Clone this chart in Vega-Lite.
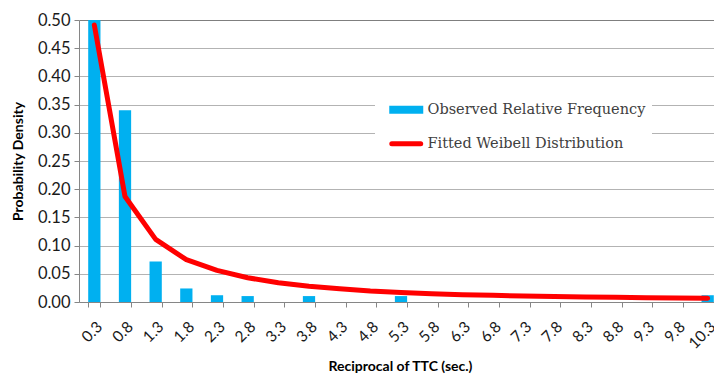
{
  "$schema": "https://vega.github.io/schema/vega-lite/v6.json",
  "width": 635,
  "height": 282,
  "autosize": {"type": "none"},
  "padding": {"left": 79, "top": 20, "right": 0, "bottom": 76},
  "background": "white",
  "config": {
    "view": {"stroke": null},
    "font": "Lato",
    "axis": {
      "domainColor": "#868686",
      "tickColor": "#868686",
      "tickSize": 5,
      "labelColor": "#1a1a1a",
      "titleColor": "#000000",
      "titleFont": "Lato",
      "titleFontWeight": "bold",
      "titleFontSize": 14,
      "labelFont": "Lato",
      "labelFontSize": 16.5,
      "labelOverlap": false
    },
    "axisY": {
      "tickCount": 10,
      "gridColor": {"condition": {"test": "datum.value > 0.49", "value": "#7f7f7f"}, "value": "#b3b3b3"}
    },
    "legend": {
      "orient": "none",
      "fillColor": "white",
      "padding": 6,
      "symbolSize": 289,
      "symbolOffset": 18,
      "labelOffset": 14,
      "rowPadding": 17,
      "labelFont": "DejaVu Serif",
      "labelFontSize": 14.5,
      "labelColor": "#404040",
      "labelLimit": 400
    }
  },
  "data": {
    "values": [
      {"ttc": "0.3", "observed": 0.5, "fitted": 0.491},
      {"ttc": "0.8", "observed": 0.34, "fitted": 0.187},
      {"ttc": "1.3", "observed": 0.072, "fitted": 0.111},
      {"ttc": "1.8", "observed": 0.024, "fitted": 0.075},
      {"ttc": "2.3", "observed": 0.012, "fitted": 0.056},
      {"ttc": "2.8", "observed": 0.0105, "fitted": 0.043},
      {"ttc": "3.3", "observed": 0, "fitted": 0.034},
      {"ttc": "3.8", "observed": 0.0105, "fitted": 0.028},
      {"ttc": "4.3", "observed": 0, "fitted": 0.0237},
      {"ttc": "4.8", "observed": 0, "fitted": 0.0195},
      {"ttc": "5.3", "observed": 0.0105, "fitted": 0.0167},
      {"ttc": "5.8", "observed": 0, "fitted": 0.0148},
      {"ttc": "6.3", "observed": 0, "fitted": 0.013},
      {"ttc": "6.8", "observed": 0, "fitted": 0.0118},
      {"ttc": "7.3", "observed": 0, "fitted": 0.0107},
      {"ttc": "7.8", "observed": 0, "fitted": 0.0098},
      {"ttc": "8.3", "observed": 0, "fitted": 0.009},
      {"ttc": "8.8", "observed": 0, "fitted": 0.0083},
      {"ttc": "9.3", "observed": 0, "fitted": 0.0076},
      {"ttc": "9.8", "observed": 0, "fitted": 0.007},
      {"ttc": "10.3", "observed": 0.012, "fitted": 0.0065}
    ]
  },
  "encoding": {
    "x": {
      "field": "ttc",
      "type": "ordinal",
      "sort": null,
      "scale": {"range": [0, 644], "paddingInner": 0.6, "paddingOuter": 0.3},
      "axis": {
        "title": "Reciprocal of TTC (sec.)",
        "labelAngle": -45,
        "labelPadding": 12,
        "labelDx": 3,
        "labelFontSize": 15.5,
        "tickBand": "extent",
        "grid": false,
        "titleX": 321,
        "titleY": 64,
        "titleBaseline": "middle",
        "titleAnchor": "middle"
      }
    }
  },
  "layer": [
    {
      "mark": {"type": "bar", "opacity": 1},
      "encoding": {
        "y": {
          "field": "observed",
          "type": "quantitative",
          "scale": {"domain": [0, 0.5], "nice": false},
          "axis": {
            "title": "Probability Density",
            "tickCount": 10,
            "format": ".2f",
            "grid": true,
            "labelPadding": 4,
            "titleX": -61,
            "titleY": 141,
            "titleAngle": -90,
            "titleBaseline": "middle",
            "titleAlign": "center"
          }
        },
        "color": {
          "datum": "Observed Relative Frequency",
          "type": "nominal",
          "scale": {
            "domain": ["Observed Relative Frequency", "Fitted Weibell Distribution"],
            "range": ["#00b0f0", "#ff0000"]
          },
          "legend": {
            "title": null,
            "legendX": 296,
            "legendY": 76.5,
            "encode": {
              "symbols": {
                "update": {
                  "shape": {"signal": "datum.value === 'Observed Relative Frequency' ? 'M-2,-0.47H2V0.47H-2Z' : 'M-1.7,0H1.7'"},
                  "fill": {"signal": "datum.value === 'Observed Relative Frequency' ? '#00b0f0' : 'transparent'"},
                  "stroke": {"signal": "datum.value === 'Observed Relative Frequency' ? 'transparent' : '#ff0000'"},
                  "strokeWidth": {"signal": "datum.value === 'Observed Relative Frequency' ? 0 : 5"},
                  "strokeCap": {"value": "round"},
                  "opacity": {"value": 1}
                }
              }
            }
          }
        }
      }
    },
    {
      "mark": {"type": "line", "strokeWidth": 5, "strokeJoin": "round", "strokeCap": "round"},
      "encoding": {
        "y": {
          "field": "fitted",
          "type": "quantitative",
          "axis": {
            "title": "Probability Density",
            "tickCount": 10,
            "format": ".2f",
            "grid": true,
            "labelPadding": 4,
            "titleX": -61,
            "titleY": 141,
            "titleAngle": -90,
            "titleBaseline": "middle",
            "titleAlign": "center"
          }
        },
        "color": {
          "datum": "Fitted Weibell Distribution",
          "type": "nominal",
          "legend": {
            "title": null,
            "legendX": 296,
            "legendY": 76.5,
            "encode": {
              "symbols": {
                "update": {
                  "shape": {"signal": "datum.value === 'Observed Relative Frequency' ? 'M-2,-0.47H2V0.47H-2Z' : 'M-1.7,0H1.7'"},
                  "fill": {"signal": "datum.value === 'Observed Relative Frequency' ? '#00b0f0' : 'transparent'"},
                  "stroke": {"signal": "datum.value === 'Observed Relative Frequency' ? 'transparent' : '#ff0000'"},
                  "strokeWidth": {"signal": "datum.value === 'Observed Relative Frequency' ? 0 : 5"},
                  "strokeCap": {"value": "round"},
                  "opacity": {"value": 1}
                }
              }
            }
          }
        }
      }
    }
  ]
}
